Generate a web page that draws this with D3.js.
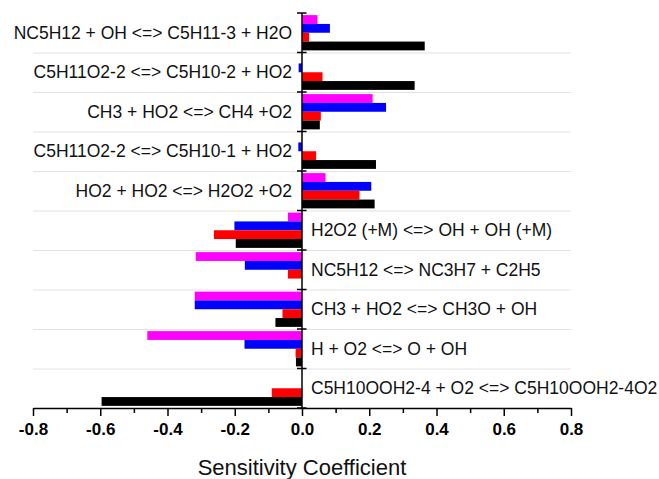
<!DOCTYPE html>
<html>
<head>
<meta charset="utf-8">
<script src="https://cdn.jsdelivr.net/npm/d3@7"></script>
<style>
    html, body { margin: 0; padding: 0; background: #fff; overflow: hidden; }
    svg { display: block; }
    text { font-family: "Liberation Sans", Arial, sans-serif; }
</style>
</head>
<body>
<div id="svg-container"></div>
<script>
// reacties (van boven naar beneden)
const reactions = [
    'NC5H12 + OH <=> C5H11-3 + H2O',
    'C5H11O2-2 <=> C5H10-2 + HO2',
    'CH3 + HO2 <=> CH4 +O2',
    'C5H11O2-2 <=> C5H10-1 + HO2',
    'HO2 + HO2 <=> H2O2 +O2',
    'H2O2 (+M) <=> OH + OH (+M)',
    'NC5H12 <=> NC3H7 + C2H5',
    'CH3 + HO2 <=> CH3O + OH',
    'H + O2 <=> O + OH',
    'C5H10OOH2-4 + O2 <=> C5H10OOH2-4O2'
]

// gevoeligheidscoefficienten per serie
const magentaValues = [0.046, 0, 0.21, 0, 0.07, -0.042, -0.316, -0.319, -0.46, 0]
const blueValues = [0.083, -0.01, 0.25, -0.011, 0.206, -0.201, -0.17, -0.319, -0.171, 0]
const redValues = [0.021, 0.061, 0.056, 0.042, 0.171, -0.262, -0.042, -0.058, -0.019, -0.09]
const blackValues = [0.365, 0.335, 0.053, 0.22, 0.216, -0.197, 0, -0.079, -0.018, -0.596]

const seriesNames = ['magenta', 'blue', 'red', 'black']
const seriesColors = ['#ff00ff', '#0000ff', '#ff0000', '#000000']

// x-as ticks
const xTickValues = [-0.8, -0.6, -0.4, -0.2, 0, 0.2, 0.4, 0.6, 0.8]
const xTickLabels = ['-0.8', '-0.6', '-0.4', '-0.2', '0.0', '0.2', '0.4', '0.6', '0.8']
const xMinorValues = [-0.7, -0.5, -0.3, -0.1, 0.1, 0.3, 0.5, 0.7]

const allSeries = [magentaValues, blueValues, redValues, blackValues]
const data = reactions.map((r, i) => {
    const row = { reaction: r }
    seriesNames.forEach((s, j) => row[s] = allSeries[j][i])
    return row
})

const width = 659
const height = 479
const margin = { top: 13, right: 88, bottom: 71, left: 33 }
const innerWidth = width - margin.left - margin.right
const innerHeight = height - margin.top - margin.bottom

const svg = d3.select('#svg-container')
    .append('svg').attr('width', width).attr('height', height)

const g = svg.append('g')
    .attr('transform', `translate(${margin.left}, ${margin.top})`)

//schalen
const xScale = d3.scaleLinear()
    .domain([-0.8, 0.8])
    .range([0, innerWidth])
const yScale = d3.scaleBand()
    .domain(reactions)
    .range([0, innerHeight])
const seriesScale = d3.scaleBand()
    .domain(seriesNames)
    .range([0, yScale.bandwidth()])
    .paddingOuter(0.24)

//grijze scheidingslijnen tussen de reacties
g.selectAll('.grid')
    .data(reactions.slice(1))
    .enter().append('line')
    .attr('class', 'grid')
    .attr('x1', 0).attr('x2', innerWidth)
    .attr('y1', d => yScale(d) + 0.5).attr('y2', d => yScale(d) + 0.5)
    .attr('stroke', '#e2e2e2')
    .attr('stroke-width', 1)

//balken
const groups = g.selectAll('.group')
    .data(data)
    .enter().append('g')
    .attr('class', 'group')
    .attr('transform', d => `translate(0, ${yScale(d.reaction)})`)

groups.selectAll('rect')
    .data(d => seriesNames.map((s, j) => ({ key: s, value: d[s], color: seriesColors[j] })))
    .enter().append('rect')
    .attr('x', d => xScale(Math.min(0, d.value)))
    .attr('y', d => seriesScale(d.key))
    .attr('width', d => Math.abs(xScale(d.value) - xScale(0)))
    .attr('height', seriesScale.bandwidth())
    .attr('fill', d => d.color)

//labels: links als de balken positief zijn, anders rechts
groups.append('text')
    .attr('x', d => d3.sum(seriesNames, s => d[s]) > 0 ? xScale(0) - 10 : xScale(0) + 9)
    .attr('y', yScale.bandwidth() / 2)
    .attr('dy', '0.35em')
    .attr('text-anchor', d => d3.sum(seriesNames, s => d[s]) > 0 ? 'end' : 'start')
    .attr('font-size', '17.5px')
    .attr('fill', '#111')
    .text(d => d.reaction)

//y-as (verticale lijn door 0)
const boundaries = reactions.map(r => yScale(r)).concat([innerHeight])
const yAxisG = g.append('g')
    .attr('transform', `translate(${xScale(0)}, 0)`)
yAxisG.append('line')
    .attr('y1', 0).attr('y2', innerHeight)
    .attr('stroke', '#000').attr('stroke-width', 1.5)
yAxisG.selectAll('.ytick')
    .data(boundaries)
    .enter().append('line')
    .attr('class', 'ytick')
    .attr('x1', -5).attr('x2', 4.5)
    .attr('y1', d => d).attr('y2', d => d)
    .attr('stroke', '#000').attr('stroke-width', 1.5)

//x-as met kleine ticks
const xMinor = d3.axisBottom(xScale)
    .tickValues(xMinorValues)
    .tickSize(5)
    .tickFormat('')
const xMinorG = g.append('g')
    .attr('transform', `translate(0, ${innerHeight})`)
    .call(xMinor)
xMinorG.select('.domain').remove()
xMinorG.selectAll('line').attr('stroke-width', 1.5)

const xAxis = d3.axisBottom(xScale)
    .tickValues(xTickValues)
    .tickFormat((d, i) => xTickLabels[i])
    .tickSizeInner(8)
    .tickSizeOuter(0)
    .tickPadding(7)
const xAxisG = g.append('g')
    .attr('transform', `translate(0, ${innerHeight})`)
    .call(xAxis)
xAxisG.select('.domain').attr('stroke-width', 1.5)
xAxisG.selectAll('.tick line').attr('stroke-width', 1.5)
xAxisG.selectAll('.tick text')
    .attr('font-size', '17px')
    .attr('font-weight', 'bold')
    .attr('fill', '#000')
    .style('font-family', '"Liberation Sans", Arial, sans-serif')

//titel x-as
g.append('text')
    .attr('x', xScale(0))
    .attr('y', innerHeight + 67)
    .attr('text-anchor', 'middle')
    .attr('font-size', '22px')
    .attr('fill', '#111')
    .text('Sensitivity Coefficient')
</script>
</body>
</html>
